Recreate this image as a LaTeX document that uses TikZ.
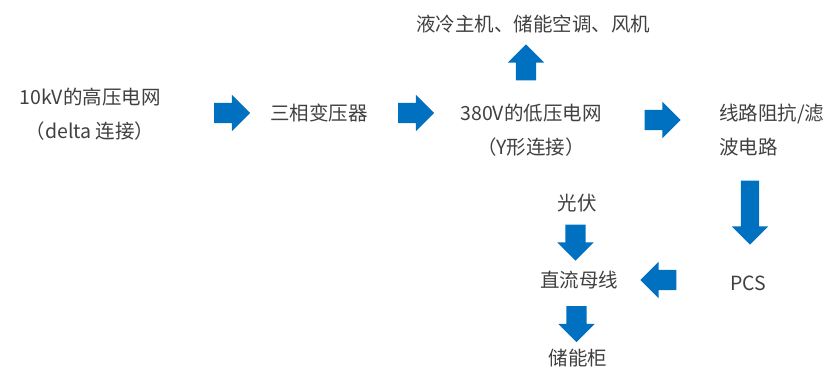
\documentclass[tikz,border=0pt]{standalone}
\usepackage{fontspec}
\setmainfont{Noto Sans CJK SC}
\usetikzlibrary{shapes.arrows}
\definecolor{FlowBlue}{RGB}{0,112,192}
\definecolor{LabelGray}{RGB}{64,64,64}

\begin{document}
\begin{tikzpicture}[
    x=1pt, y=-1pt,
    every node/.style={font=\fontsize{19.5}{34}\selectfont, text=LabelGray, inner sep=0pt},
    flowarrow/.style={single arrow, fill=FlowBlue, draw=none, inner xsep=0pt, inner ysep=10pt, minimum width=36pt, single arrow head extend=8pt, minimum height=36pt}
]
\useasboundingbox (0,0) rectangle (837,388);
% labels
\node[align=center] (hvgrid) at (90,114) {10kV的高压电网\\（delta 连接）};
\node (xfmr) at (319,113) {三相变压器};
\node[align=center] (lvgrid) at (531,130) {380V的低压电网\\（Y形连接）};
\node (loads) at (533,24) {液冷主机、储能空调、风机};
\node[align=left, anchor=west] (filter) at (719,130) {线路阻抗/滤\\波电路};
\node (pcs) at (748,283) {PCS};
\node (pv) at (577,203) {光伏};
\node (dcbus) at (579,280) {直流母线};
\node (cabinet) at (578,358) {储能柜};
% block arrows
\node[flowarrow] (hvToXfmr) at (227,113) {};
\node[flowarrow] (xfmrToLv) at (411,113) {};
\node[flowarrow, rotate=90] (lvToLoads) at (526,67.5) {};
\node[flowarrow] (lvToFilter) at (657.5,120) {};
\node[flowarrow, rotate=270, minimum height=64pt, inner ysep=9pt, single arrow head extend=9pt] (filterToPcs) at (750,208) {};
\node[flowarrow, rotate=180] (pcsToBus) at (663.5,280) {};
\node[flowarrow, rotate=270] (pvToBus) at (575.5,237.5) {};
\node[flowarrow, rotate=270] (busToCabinet) at (576.5,319) {};
\end{tikzpicture}
\end{document}
